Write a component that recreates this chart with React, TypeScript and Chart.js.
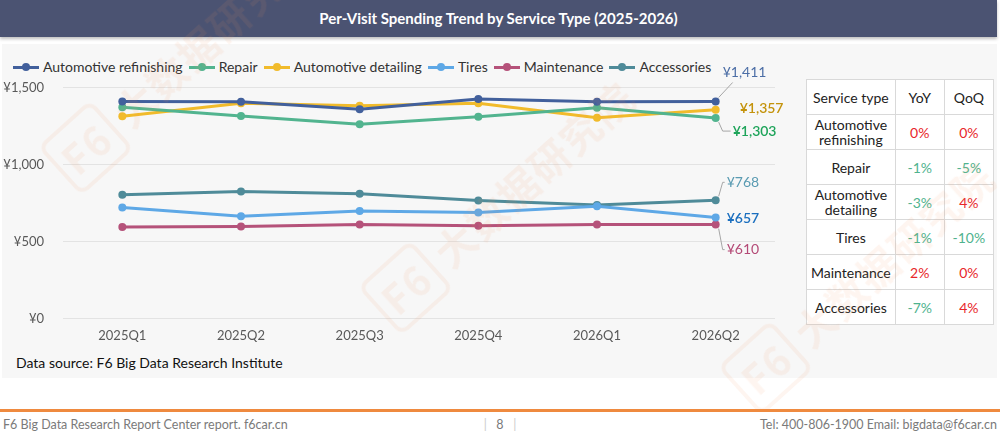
import React, { useEffect, useRef } from 'react';
import { Chart, registerables } from 'chart.js';

Chart.register(...registerables);

// data
const quarters = ['2025Q1', '2025Q2', '2025Q3', '2025Q4', '2026Q1', '2026Q2'];
const refinishing = [1411, 1409, 1361, 1427, 1410, 1411];
const repair = [1374, 1316, 1263, 1311, 1370, 1303];
const detailing = [1315, 1399, 1383, 1400, 1305, 1357];
const tires = [722, 664, 698, 689, 730, 657];
const maintenance = [595, 598, 611, 602, 610, 610];
const accessories = [805, 826, 811, 767, 738, 768];

const seriesNames = ['Automotive refinishing', 'Repair', 'Automotive detailing', 'Tires', 'Maintenance', 'Accessories'];
const seriesValues = [refinishing, repair, detailing, tires, maintenance, accessories];

const tableNames = ['Automotive refinishing', 'Repair', 'Automotive detailing', 'Tires', 'Maintenance', 'Accessories'];
const yoy = [0, -1, -3, -1, 2, -7];
const qoq = [0, -5, 4, -10, 0, 4];

const lineColors = ['#42609c', '#52b48f', '#f1bb2b', '#5ea8e6', '#b5527a', '#4f8b99'];
const labelColors = ['#4c6ea6', '#1ea45a', '#c4930c', '#1b6fbf', '#b44a76', '#5a9bb2'];
const labelBold = [false, true, true, true, false, false];
// end label offsets from the last point (dx, dy), px
const labelOffsets = [[7, -29], [17, 13], [24, -1], [11, 1], [11, 25], [11, -18]];

const FONT = 'Lato, "Noto Sans", sans-serif';

const endLabels = {
  id: 'endLabels',
  afterDatasetsDraw(chart: any) {
    const ctx = chart.ctx;
    ctx.save();
    chart.data.datasets.forEach((ds: any, i: number) => {
      const meta = chart.getDatasetMeta(i);
      const pt = meta.data[meta.data.length - 1];
      const v = ds.data[ds.data.length - 1];
      const [dx, dy] = labelOffsets[i];
      const x = pt.x;
      const y = pt.y;
      ctx.strokeStyle = '#a6a6a6';
      ctx.lineWidth = 1;
      if (dy < -25) {
        // diagonal leader up to below the label
        ctx.beginPath();
        ctx.moveTo(x + 3, y - 4);
        ctx.lineTo(x + dx + 10, y + dy + 10);
        ctx.stroke();
      } else if (Math.abs(dy) > 6) {
        const s = dy < 0 ? -1 : 1;
        ctx.beginPath();
        ctx.moveTo(x + 3, y + s * 4);
        ctx.lineTo(x + 7, y + dy);
        ctx.lineTo(x + dx - 2, y + dy);
        ctx.stroke();
      }
      ctx.fillStyle = labelColors[i];
      ctx.font = `${labelBold[i] ? '600 ' : ''}14px ${FONT}`;
      ctx.textAlign = 'left';
      ctx.textBaseline = 'middle';
      ctx.fillText('¥' + v.toLocaleString('en-US'), x + dx, y + dy);
    });
    ctx.restore();
  },
};

const TrendChart: React.FC = () => {
  const canvasRef = useRef<HTMLCanvasElement>(null);
  const chartRef = useRef<Chart | null>(null);

  useEffect(() => {
    if (!canvasRef.current) return;
    if (chartRef.current) chartRef.current.destroy();
    const ctx = canvasRef.current.getContext('2d');
    if (!ctx) return;

    chartRef.current = new Chart(ctx, {
      type: 'line',
      data: {
        labels: quarters,
        datasets: seriesNames.map((name, i) => ({
          label: name,
          data: seriesValues[i],
          borderColor: lineColors[i],
          backgroundColor: lineColors[i],
          borderWidth: 3,
          pointRadius: 4,
          pointBorderWidth: 0,
          tension: 0,
        })),
      },
      options: {
        animation: false,
        responsive: true,
        maintainAspectRatio: false,
        layout: { padding: { top: 4, right: 25, left: 0, bottom: 0 } },
        plugins: {
          legend: { display: false },
          tooltip: { enabled: false },
        },
        scales: {
          x: {
            offset: true,
            grid: { display: false },
            border: { display: false },
            ticks: { color: '#595959', font: { family: FONT, size: 13 }, padding: 2 },
          },
          y: {
            min: 0,
            max: 1500,
            afterFit: (s: any) => { s.width = 63; },
            grid: { color: '#e3e3e3', drawTicks: false },
            border: { display: false },
            ticks: {
              stepSize: 500,
              color: '#595959',
              font: { family: FONT, size: 13 },
              padding: 19,
              callback: (v: any) => '¥' + Number(v).toLocaleString('en-US'),
            },
          },
        },
      },
      plugins: [endLabels],
    });

    return () => {
      if (chartRef.current) {
        chartRef.current.destroy();
        chartRef.current = null;
      }
    };
  }, []);

  return (
    <div style={{ position: 'absolute', left: 0, top: 61, width: 800, height: 285 }}>
      <canvas ref={canvasRef} />
    </div>
  );
};

const pct = (v: number) => (
  <span style={{ color: v >= 0 ? '#e8262a' : '#4fb38e' }}>{v}%</span>
);

const Watermark: React.FC<{ left: number; top: number }> = ({ left, top }) => (
  <div
    style={{
      position: 'absolute', left, top, transform: 'rotate(-42deg)', transformOrigin: 'left top',
      color: 'rgba(240,140,90,0.09)', fontFamily: '"Noto Sans CJK SC", sans-serif', fontWeight: 700,
      fontSize: 40, whiteSpace: 'nowrap', pointerEvents: 'none', letterSpacing: 2,
    }}
  >
    <span style={{ border: '4px solid rgba(240,140,90,0.09)', borderRadius: 10, padding: '0 6px', marginRight: 10 }}>F6</span>
    大数据研究院
  </div>
);

const App: React.FC = () => {
  const cell: React.CSSProperties = {
    border: '1px solid #d9d9d9', textAlign: 'center', padding: 0, height: 34, lineHeight: '15px',
  };
  return (
    <div style={{ position: 'absolute', left: 0, top: 0, width: 1000, height: 438, background: '#fff', overflow: 'hidden', fontFamily: FONT }}>
      <div style={{ position: 'absolute', left: 0, top: 0, width: 997, height: 37, background: '#4b5372', boxShadow: '0 2px 3px rgba(0,0,0,0.25)', color: '#fff', fontWeight: 700, fontSize: 15, textAlign: 'center', lineHeight: '37px' }}>
        Per-Visit Spending Trend by Service Type (2025-2026)
      </div>
      <div style={{ position: 'absolute', left: 2, top: 44, width: 995, height: 334, background: '#f7f7f7' }} />

      <div style={{ position: 'absolute', left: 13, top: 58, display: 'flex', gap: 6, fontSize: 14, color: '#333', lineHeight: '18px' }}>
        {seriesNames.map((n, i) => (
          <div key={n} style={{ display: 'flex', alignItems: 'center' }}>
            <span style={{ position: 'relative', width: 26, height: 18, marginRight: 4 }}>
              <span style={{ position: 'absolute', left: 0, top: 8, width: 26, height: 3, background: lineColors[i] }} />
              <span style={{ position: 'absolute', left: 9, top: 5, width: 8, height: 8, borderRadius: 4, background: lineColors[i] }} />
            </span>
            {n}
          </div>
        ))}
      </div>

      <TrendChart />

      <div style={{ position: 'absolute', left: 16, top: 354, fontSize: 14, color: '#111' }}>
        Data source: F6 Big Data Research Institute
      </div>

      <table style={{ position: 'absolute', left: 806, top: 79, width: 188, borderCollapse: 'collapse', background: '#fff', fontSize: 14, color: '#222', border: '1px solid #cfcfcf' }}>
        <thead>
          <tr>
            <td style={{ ...cell, width: 86 }}>Service type</td>
            <td style={{ ...cell, width: 48 }}>YoY</td>
            <td style={{ ...cell }}>QoQ</td>
          </tr>
        </thead>
        <tbody>
          {tableNames.map((n, i) => (
            <tr key={n}>
              <td style={{ ...cell, padding: '0 4px' }}>{n}</td>
              <td style={cell}>{pct(yoy[i])}</td>
              <td style={cell}>{pct(qoq[i])}</td>
            </tr>
          ))}
        </tbody>
      </table>

      <Watermark left={40} top={150} />
      <Watermark left={360} top={290} />
      <Watermark left={720} top={370} />

      <div style={{ position: 'absolute', left: 0, top: 409, width: 1000, height: 3, background: '#ef8a3f' }} />
      <div style={{ position: 'absolute', left: 3, top: 417, fontSize: 12.5, color: '#7a7a7a' }}>
        F6 Big Data Research Report Center report. f6car.cn
      </div>
      <div style={{ position: 'absolute', left: 478, top: 417, width: 44, textAlign: 'center', fontSize: 12.5, color: '#7a7a7a' }}>
        <span style={{ color: '#ccc' }}>|</span>&nbsp;&nbsp;&nbsp;8&nbsp;&nbsp;&nbsp;<span style={{ color: '#ccc' }}>|</span>
      </div>
      <div style={{ position: 'absolute', right: 3, top: 417, fontSize: 12.5, color: '#7a7a7a' }}>
        Tel: 400-806-1900 Email: bigdata@f6car.cn
      </div>
    </div>
  );
};

export default App;
